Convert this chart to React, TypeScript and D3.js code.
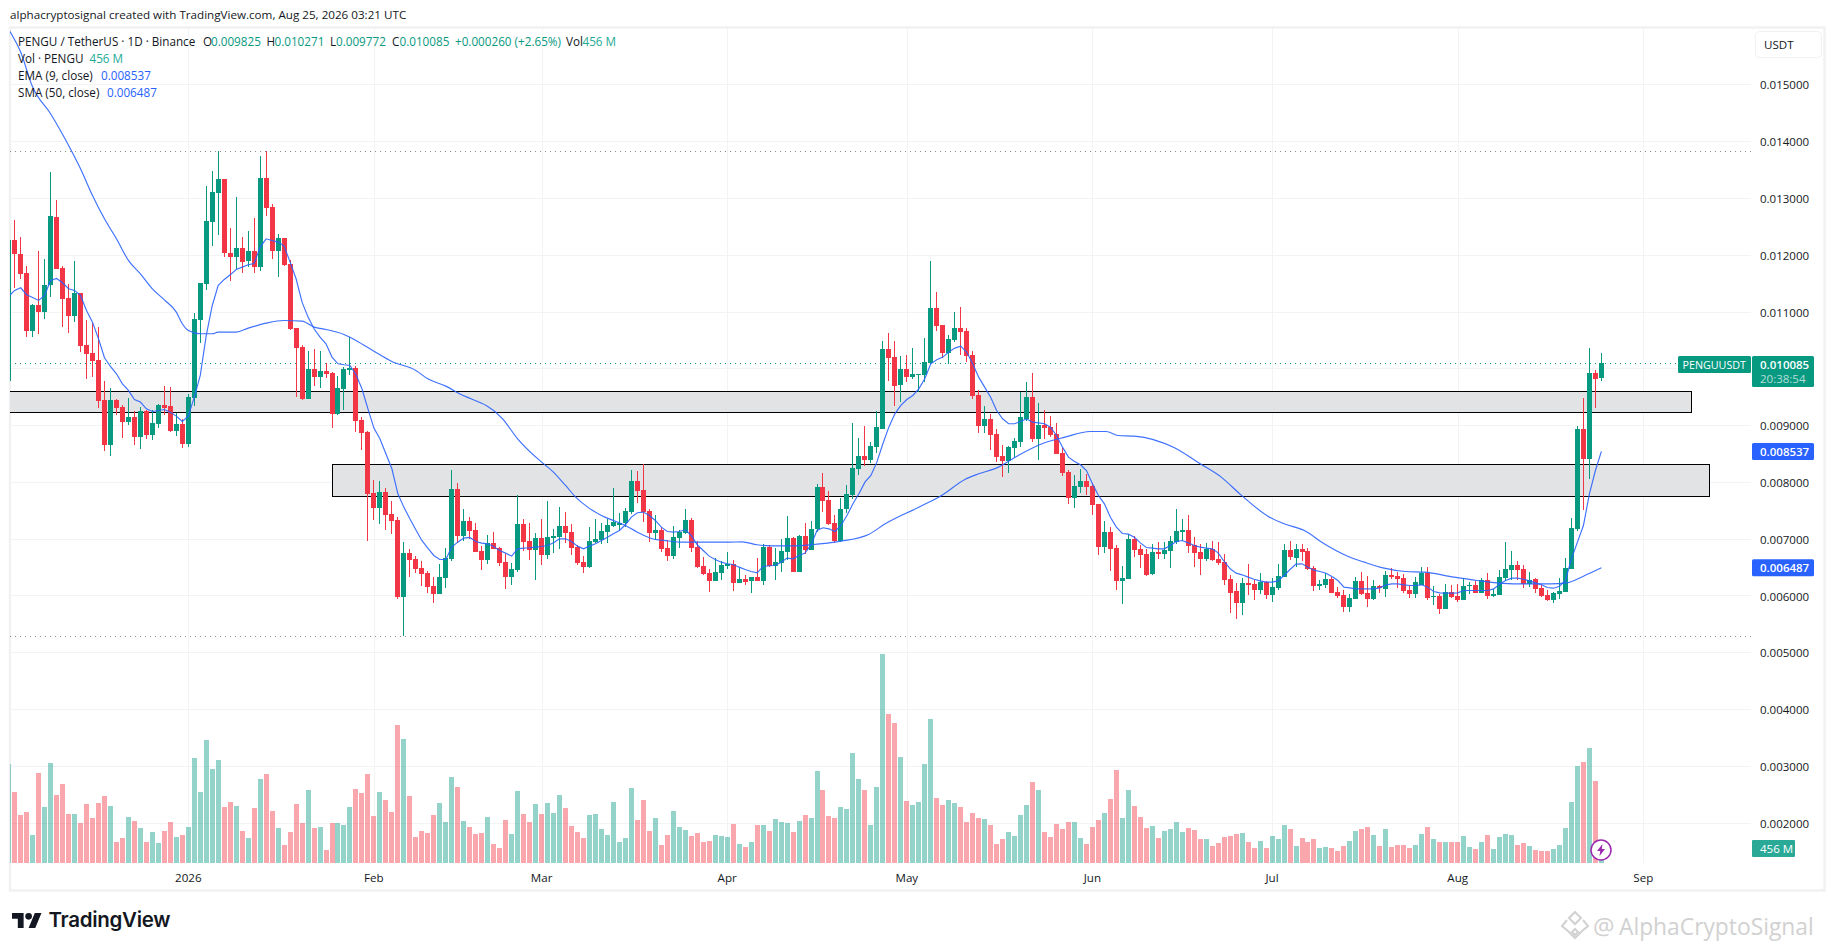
import React from "react";
import * as d3 from "d3";

// All prices in micro-USDT (1e-6), one entry per daily candle from 2 Dec 2025 to 25 Aug 2026
const opens = [
9768,12263,12016,11682,10649,11118,10983,11459,12668,11770,
11241,10913,11330,10414,10273,10150,9446,8653,9446,9322,
9058,9146,8794,9252,8829,9023,9358,9340,8900,9023,
8671,9481,10854,11488,12580,13090,13337,12034,11963,12122,
11893,12069,11787,13354,12844,12069,12298,11840,10713,10379,
9463,9991,9851,9956,9921,9199,9639,9974,10009,9093,
8882,7808,7544,7826,7438,7333,5977,6752,6646,6487,
6399,6171,6030,6311,6646,7878,7051,7315,7157,6787,
6628,6928,6840,6593,6329,6452,7262,6963,6804,7016,
6716,7016,7033,7227,7121,6857,6593,6505,6945,6981,
7121,7227,7245,7280,7474,8019,7861,7491,7104,7157,
6840,6699,7016,7104,7333,6857,6523,6400,6259,6400,
6523,6558,6223,6294,6259,6329,6259,6857,6523,6576,
6769,7016,6417,7051,6804,7174,7913,7684,7280,6963,
7526,7773,8230,8459,8389,8618,8935,10343,10202,9709,
9991,9850,9885,9885,10097,11065,10766,10273,10502,10713,
10660,10238,9533,8987,9111,8847,8459,8371,8600,8706,
9111,9498,8759,9005,8970,8847,8512,8178,7720,7913,
8019,7931,7614,6857,7121,6839,6258,6293,6998,6821,
6733,6381,6769,6733,6786,6945,7121,7156,6892,6769,
6645,6821,6645,6593,6293,6082,5871,6223,6205,6100,
6240,6012,6135,6329,6804,6663,6821,6786,6487,6170,
6188,6293,6064,6012,5800,5941,6258,6047,5941,6170,
6117,6364,6346,6311,6100,6029,6188,6399,5976,5994,
5765,6064,5994,5923,6170,6188,6047,6276,5994,6012,
6311,6452,6540,6469,6205,6293,6135,6012,5923,6029,
6064,6469,7174,8934,8406,9920,9825];

const highs = [
12300,12615,12316,11805,11136,12069,11928,13460,12967,11805,
11488,11893,11330,10854,10801,10731,9780,9657,9463,9358,
9481,9252,9322,9270,9270,9375,9692,9674,9217,9111,
9551,10977,11506,13213,13478,13824,13337,12474,13020,12316,
12421,12650,13742,13824,12897,12368,12298,11911,10713,10414,
10308,10344,10308,10097,9939,9868,10027,10549,10044,9146,
8900,8037,8019,7896,7667,7385,6945,6822,6699,6611,
6435,6329,6558,6840,8213,7984,7526,7386,7280,6875,
7069,7121,6857,6734,6576,7773,7350,7280,7104,7350,
7667,7174,7562,7474,7262,6893,6699,7209,7350,7280,
7350,7896,7456,7544,8213,8195,8319,7526,7421,7209,
6981,7227,7157,7526,7368,6963,6681,6470,6664,6611,
6769,6628,6505,6364,6329,6664,6910,6893,6840,6998,
7403,7033,7069,7280,7315,7967,8160,7843,7420,7720,
7949,9040,8776,8987,8706,9252,10484,10625,10484,10220,
10238,10361,9903,10537,11893,11347,10766,10590,10995,11083,
10713,10308,9621,9340,9199,8935,8653,8635,8776,9586,
9762,9921,9392,9269,9164,9040,8600,8213,8125,8230,
8142,7984,7614,7315,7209,6892,6522,7086,7050,6892,
6821,6910,6945,6945,7050,7526,7350,7420,7033,6910,
6927,6962,6945,6733,6364,6223,6311,6557,6276,6399,
6258,6311,6557,6910,6962,6910,6910,6839,6522,6276,
6399,6328,6152,6100,6029,6328,6417,6346,6276,6188,
6434,6487,6417,6381,6188,6328,6505,6505,6170,6029,
6205,6188,6205,6311,6240,6258,6311,6399,6117,6452,
6945,6786,6610,6540,6416,6311,6188,6100,6064,6311,
6663,7367,8987,9480,10360,9973,10271];

const lows = [
9750,11418,11576,10543,10543,10608,10872,11247,11740,10731,
10625,10819,10291,9815,9850,9305,8548,8460,9181,8777,
9005,8653,8583,8759,8741,8953,9181,8882,8812,8600,
8618,9340,10449,11382,12157,12351,11963,11541,11752,11682,
11787,11682,11717,12685,11928,11611,11805,10678,9498,9446,
9463,9692,9657,9833,8953,9181,9270,9886,8882,8565,
6963,7333,7262,7156,7086,5942,5290,6329,6399,6171,
6047,5871,6030,6135,6611,6928,6963,6998,6769,6452,
6558,6822,6523,6118,6188,6417,6787,6628,6276,6540,
6646,6752,6822,6928,6716,6540,6400,6488,6928,6910,
6928,7209,7139,7209,7438,7632,7297,6945,6981,6769,
6611,6646,6840,7086,6769,6488,6364,6065,6259,6276,
6470,6083,6223,6188,6047,6259,6188,6505,6276,6417,
6628,6417,6417,6734,6804,7121,7473,7244,6927,6945,
7456,7702,8125,8283,8336,8512,8935,9780,9340,9410,
9762,9815,9586,9762,10079,10660,10185,10079,10466,10238,
10114,9463,8864,8864,8565,8354,8090,8160,8442,8618,
9076,8706,8389,8759,8794,8494,8107,7614,7544,7808,
7773,7420,6716,6751,6434,6100,5853,6293,6681,6487,
6346,6364,6645,6645,6487,6910,6962,6751,6505,6364,
6610,6610,6540,6188,5695,5589,5659,6012,5923,6029,
5941,5888,6100,6329,6628,6505,6610,6452,6082,6100,
6135,6047,5959,5712,5712,5941,6012,5800,5923,6047,
5976,6293,6135,6047,5959,5959,6188,5923,5836,5677,
5765,5959,5888,5923,6029,6047,6047,5941,5976,6012,
6258,6276,6276,6135,6147,6047,5976,5906,5871,5941,
6064,6469,7138,7508,8054,9304,9772];

const closes = [
12251,12004,11664,10649,11118,10983,11470,12685,11752,11224,
10913,11330,10396,10255,10132,9428,8653,9446,9305,9058,
9146,8794,9252,8829,9041,9358,9305,8900,9023,8671,
9498,10872,11506,12597,13108,13337,12034,11963,12122,11875,
12069,11787,13354,12826,12069,12298,11823,10696,10361,9463,
9991,9851,9956,9903,9199,9657,9991,10009,9076,8865,
7790,7544,7826,7421,7315,5977,6752,6628,6470,6382,
6153,6030,6329,6663,7878,7051,7315,7139,6769,6628,
6928,6822,6576,6329,6470,7262,6945,6804,7016,6716,
7033,7051,7227,7104,6840,6576,6505,6963,6998,7139,
7245,7297,7280,7491,8019,7843,7474,7104,7157,6822,
6699,7033,7121,7333,6840,6505,6382,6259,6417,6540,
6558,6223,6294,6241,6329,6259,6857,6523,6593,6787,
7016,6417,7051,6804,7174,7914,7667,7262,6963,7526,
7790,8248,8459,8389,8635,8970,10343,10185,9692,9991,
9850,9903,9903,10114,11065,10748,10273,10519,10713,10643,
10220,9516,8987,9111,8829,8442,8371,8618,8723,9146,
9498,8759,9005,8952,8829,8494,8160,7720,7931,8019,
7913,7597,6857,7121,6821,6258,6311,6998,6804,6716,
6364,6769,6733,6804,6962,7138,7156,6874,6751,6645,
6821,6628,6575,6276,6047,5871,6223,6188,6100,6240,
6012,6152,6346,6804,6681,6821,6769,6469,6170,6205,
6293,6047,5994,5800,5959,6258,6029,5941,6170,6135,
6364,6328,6293,6082,6029,6240,6399,5959,5994,5765,
6064,5976,5923,6170,6188,6047,6276,5994,6029,6328,
6469,6540,6452,6205,6276,6117,5994,5923,6047,6082,
6487,7191,8934,8406,9920,9815,10085];

// Volume in millions of PENGU
const volumes = [
3110,2230,1508,1602,880,2827,1759,3141,2136,2481,
1539,1539,1256,1853,1413,1885,2104,1790,660,785,
1445,1319,1099,660,974,628,1005,1288,817,880,
1131,3298,2230,3863,2953,3235,1759,1916,1790,1005,
785,1728,2638,2795,1633,1099,565,974,1853,1256,
2293,1099,1131,408,1256,1256,1194,1759,2324,2199,
2795,1476,2230,1979,1602,4335,3895,2104,817,1005,
942,1508,1885,1288,2701,2387,1319,1131,911,942,
1445,597,471,1351,911,2262,1539,1288,1853,1539,
1885,1570,2136,1728,1162,974,785,1508,1539,1068,
880,1916,660,785,2356,1351,1979,1005,1413,565,
880,1633,1131,1037,848,942,660,691,880,848,
817,1225,597,503,660,1194,1194,1005,1382,1288,
1256,974,1319,1508,1413,2890,2293,1476,1413,1759,
1696,3455,2638,2293,1194,2387,6565,4680,4397,3329,
1947,1822,1916,3110,4523,2042,1822,1979,1885,1759,
1288,1570,1413,1382,1194,597,754,974,848,1508,
1822,2544,2293,974,817,1225,1068,1288,1288,785,
597,1131,1351,1570,2010,2921,1413,2293,1790,1445,
1099,1162,785,1005,1068,1288,974,1099,1037,754,
754,534,628,817,848,911,942,660,471,691,
471,848,754,1194,1068,534,785,660,754,471,
503,471,377,534,691,1005,1068,1131,880,534,
1068,503,565,565,471,565,911,1131,754,660,
660,660,660,848,503,440,660,880,440,817,
911,880,565,628,534,408,377,377,440,565,
1099,1916,3047,3172,3612,2576,456];

// EMA (9, close), one entry per candle
const emaValues = [
11265,11371,11418,11295,11247,11195,11283,11547,11582,11506,
11400,11371,11283,11018,10813,10520,10185,10032,9903,9727,
9610,9451,9405,9287,9240,9258,9275,9228,9158,9064,
9158,9492,9874,10578,11106,11459,11564,11646,11740,11781,
11823,11846,12134,12280,12251,12222,12151,11869,11576,11165,
10901,10696,10549,10432,10197,10079,10062,10050,9892,9639,
9287,8947,8759,8495,8231,7790,7556,7350,7156,6969,
6834,6705,6634,6634,6851,6939,7010,7022,6951,6922,
6910,6863,6793,6746,6693,6822,6834,6840,6851,6863,
6881,6928,6998,6998,6951,6869,6822,6869,6910,6969,
7027,7086,7145,7245,7380,7456,7468,7409,7321,7204,
7127,7115,7127,7157,7057,6893,6793,6693,6634,6587,
6558,6546,6499,6458,6423,6400,6511,6523,6529,6587,
6658,6646,6705,6746,6893,7145,7192,7174,7127,7233,
7409,7614,7790,7996,8113,8348,8671,8964,9199,9346,
9451,9522,9639,9815,10079,10150,10197,10285,10355,10390,
10285,10079,9844,9668,9492,9257,9111,9023,9023,9064,
9111,9052,9040,9023,8964,8817,8612,8436,8360,8301,
8201,7966,7761,7614,7379,7203,7092,7080,7027,6927,
6845,6834,6822,6822,6881,6951,6968,6927,6881,6851,
6834,6822,6751,6599,6470,6393,6364,6323,6287,6258,
6235,6235,6258,6352,6458,6552,6557,6499,6446,6422,
6393,6334,6264,6147,6135,6117,6117,6117,6117,6135,
6188,6205,6205,6188,6176,6176,6188,6147,6070,6047,
6041,6041,6047,6088,6088,6088,6088,6088,6117,6199,
6264,6305,6305,6287,6258,6223,6188,6141,6129,6164,
6264,6645,6939,7232,7790,8201,8537];

// SMA (50, close), read at selected candles (fractional candle number, value)
const smaCandles = [
0,2,4,7,10.3,12,14,16,18,20,22,24,26,28,29,30,32,34,35,38,40,43,46,49,51,53,56,58,61,64,68,70,73,75,
82.5,85,89,90.8,93,94.7,96.7,99,101.4,103,105,107.5,110,112.5,115,120,122.5,125,127.5,131,134,139,
143.6,146.4,152,155.8,159.7,162,165.3,168.6,173,176.4,180.6,183.3,185.3,188,194.7,199,202.5,205.8,
210.3,213,216.4,219.7,223.6,226.4,229.7,233.3,236.4,241.4,245.3,248.6,252,257.4,260.2,263,266];
const smaValues = [
15966,15567,14951,14481,13865,13513,13043,12632,12280,11899,11664,11400,11206,10989,10784,10666,10608,10608,10637,10637,10707,10795,10842,10831,10725,10684,10596,10490,10302,10120,9962,9815,9686,9569,
9111,8759,8348,8190,7937,7732,7556,7409,7303,7233,7115,6998,6963,6939,6939,6939,6945,6893,6875,6875,6893,6957,
7074,7262,7555,7761,8043,8142,8260,8465,8688,8788,8888,8888,8817,8806,8600,8318,8084,7772,
7397,7262,7144,6910,6692,6587,6481,6422,6411,6323,6264,6223,6205,6205,6223,6340,6487];

const priceTicks = [2000,3000,4000,5000,6000,7000,8000,9000,10000,11000,12000,13000,14000,15000];
// the 0.010000 label sits under the last-price tag in the reference, so it is not printed
const hiddenTickLabels = [10000];
const monthLabels = ["2026","Feb","Mar","Apr","May","Jun","Jul","Aug","Sep"];
const monthDates = [[2026,0],[2026,1],[2026,2],[2026,3],[2026,4],[2026,5],[2026,6],[2026,7],[2026,8]];
const rangeHigh = 13824;
const rangeLow = 5285;
const zoneUpper = { top: 9595, bottom: 9225, from: [2025,10,20], to: [2026,8,9] };
const zoneLower = { top: 8310, bottom: 7747, from: [2026,0,25], to: [2026,8,12] };
const lastPrice = 10085;
const lastEma = 8537;
const lastSma = 6487;

const GREEN = "#089981";
const RED = "#f23645";
const BLUE = "#2962ff";
const INK = "#131722";
const FONT = "'Open Sans', sans-serif";

const DAY = 86400000;
const firstDay = Date.UTC(2025, 11, 2);
const dayOf = (i: number) => new Date(firstDay + i * DAY);

const x = d3.scaleUtc().domain([new Date(Date.UTC(2026, 0, 1)), new Date(Date.UTC(2026, 8, 1))]).range([188.3, 1643.3]);
const y = d3.scaleLinear().domain([5000, 15000]).range([652.3, 84.3]);
const yVol = d3.scaleLinear().domain([0, 6565]).range([863, 654]);
const fmt = d3.format(".6f");
const priceText = (v: number) => fmt(v / 1e6);

const emaLine = d3.line<number>().x((_, i) => x(dayOf(i))).y((v) => y(v));
const smaLine = d3.line<number>().x((_, i) => x(dayOf(smaCandles[i]))).y((v) => y(v)).curve(d3.curveMonotoneX);

function Row({ at, parts }: { at: number; parts: [number, string, string][] }) {
  return (
    <g>
      {parts.map(([px, text, fill], k) => (
        <text key={k} x={px} y={at} fill={fill} fontSize={11.7} fontFamily={FONT}>{text}</text>
      ))}
    </g>
  );
}

export default function App() {
  const zoneRect = (z: typeof zoneUpper) => {
    const x0 = x(new Date(Date.UTC(z.from[0], z.from[1], z.from[2])));
    const x1 = x(new Date(Date.UTC(z.to[0], z.to[1], z.to[2])));
    return { x: Math.round(x0) + 0.5, y: Math.round(y(z.top)) + 0.5, width: Math.round(x1 - x0), height: Math.round(y(z.bottom) - y(z.top)) };
  };
  return (
    <svg width={1835} height={951} style={{ position: "absolute", left: 0, top: 0, background: "#fff" }}>
      <defs>
        <clipPath id="pane"><rect x={10} y={28} width={1741} height={835} /></clipPath>
      </defs>
      <text x={10} y={19} fontSize={11.65} fontFamily={FONT} fill={INK}>alphacryptosignal created with TradingView.com, Aug 25, 2026 03:21 UTC</text>

      <rect x={10} y={27.5} width={1814.5} height={863} fill="none" stroke="#f1f1f2" strokeWidth={2.4} />

      <g shapeRendering="crispEdges" stroke="#f2f3f5" strokeWidth={1}>
        {priceTicks.map((t) => <line key={t} x1={10} x2={1751} y1={Math.round(y(t)) + 0.5} y2={Math.round(y(t)) + 0.5} />)}
        {monthDates.map(([yr, m], k) => {
          const px = Math.round(x(new Date(Date.UTC(yr, m, 1)))) + 0.5;
          return <line key={k} x1={px} x2={px} y1={28} y2={863} />;
        })}
      </g>

      <g clipPath="url(#pane)">
        <g shapeRendering="crispEdges">
          {[zoneUpper, zoneLower].map((z, k) => <rect key={k} {...zoneRect(z)} fill="#e2e3e5" stroke="#000" strokeWidth={1} />)}
        </g>

        <g shapeRendering="crispEdges">
          {volumes.map((v, i) => (
            <rect key={i} x={Math.floor(x(dayOf(i))) - 2} width={5} y={yVol(v)} height={863 - yVol(v)} fill={closes[i] >= opens[i] ? GREEN : RED} fillOpacity={closes[i] >= opens[i] ? 0.43 : 0.44} />
          ))}
        </g>

        <g stroke="#8a8a8a" strokeWidth={1} strokeDasharray="1 4">
          <line x1={10} x2={1751} y1={Math.round(y(rangeHigh)) + 0.5} y2={Math.round(y(rangeHigh)) + 0.5} />
          <line x1={10} x2={1751} y1={Math.round(y(rangeLow)) + 0.5} y2={Math.round(y(rangeLow)) + 0.5} />
        </g>
        <line x1={10} x2={1678} y1={Math.round(y(lastPrice)) + 0.5} y2={Math.round(y(lastPrice)) + 0.5} stroke={GREEN} strokeWidth={1} strokeDasharray="1 4" />

        <g shapeRendering="crispEdges">
          {opens.map((o, i) => {
            const c = closes[i];
            const up = c >= o;
            const px = Math.floor(x(dayOf(i)));
            const top = y(Math.max(o, c));
            const bot = y(Math.min(o, c));
            const fill = up ? GREEN : RED;
            return (
              <g key={i} fill={fill}>
                <rect x={px} width={1} y={y(highs[i])} height={y(lows[i]) - y(highs[i])} />
                <rect x={px - 2} width={5} y={top} height={Math.max(1, bot - top)} />
              </g>
            );
          })}
        </g>

        <path d={emaLine(emaValues) ?? ""} fill="none" stroke={BLUE} strokeOpacity={0.9} strokeWidth={1.15} />
        <path d={smaLine(smaValues) ?? ""} fill="none" stroke={BLUE} strokeOpacity={0.9} strokeWidth={1.15} />
      </g>

      <Row at={46} parts={[[18, "PENGU / TetherUS · 1D · Binance", INK], [203, "O", INK], [211, "0.009825", GREEN], [266.5, "H", INK], [274.5, "0.010271", GREEN], [330, "L", INK], [336, "0.009772", GREEN], [392, "C", INK], [399.5, "0.010085", GREEN], [455, "+0.000260 (+2.65%)", GREEN], [566, "Vol", INK], [582.5, "456 M", "#22ab94"]]} />
      <Row at={63} parts={[[18, "Vol · PENGU", INK], [89.5, "456 M", "#22ab94"]]} />
      <Row at={80} parts={[[18, "EMA (9, close)", INK], [101, "0.008537", BLUE]]} />
      <Row at={97} parts={[[18, "SMA (50, close)", INK], [107, "0.006487", BLUE]]} />

      <rect x={1755.5} y={31.5} width={66} height={26} rx={4} fill="#fff" stroke="#f0f1f3" strokeWidth={1} />
      <text x={1764} y={49} fontSize={11.6} fontFamily={FONT} fill={INK}>USDT</text>

      {priceTicks.filter((t) => !hiddenTickLabels.includes(t)).map((t) => (
        <text key={t} x={1760} y={y(t) + 5} fontSize={11.5} fontFamily={FONT} fill={INK}>{priceText(t)}</text>
      ))}

      {monthLabels.map((m, k) => (
        <text key={m} x={x(new Date(Date.UTC(monthDates[k][0], monthDates[k][1], 1)))} y={882} textAnchor="middle" fontSize={11.6} fontFamily={FONT} fill={INK}>{m}</text>
      ))}

      <rect x={1678} y={356} width={73} height={17} rx={1.5} fill={GREEN} />
      <text x={1682.5} y={368.5} fontSize={10.6} textLength={63.5} lengthAdjust="spacingAndGlyphs" fontFamily={FONT} fill="#fff">PENGUUSDT</text>
      <rect x={1752} y={356} width={62} height={31} rx={1.5} fill={GREEN} />
      <text x={1760} y={369} fontSize={11.5} fontFamily={FONT} fontWeight={600} fill="#fff">{priceText(lastPrice)}</text>
      <text x={1760} y={383} fontSize={11.5} fontFamily={FONT} fill="#fff" fillOpacity={0.7}>20:38:54</text>

      <rect x={1752} y={y(lastEma) - 8.5} width={62} height={17} rx={1.5} fill={BLUE} />
      <text x={1760} y={y(lastEma) + 4.5} fontSize={11.5} fontFamily={FONT} fontWeight={600} fill="#fff">{priceText(lastEma)}</text>
      <rect x={1752} y={y(lastSma) - 8.5} width={62} height={17} rx={1.5} fill={BLUE} />
      <text x={1760} y={y(lastSma) + 4.5} fontSize={11.5} fontFamily={FONT} fontWeight={600} fill="#fff">{priceText(lastSma)}</text>

      <rect x={1752} y={840} width={43} height={17} rx={1} fill="#2aa997" />
      <text x={1760} y={852.5} fontSize={11.5} fontFamily={FONT} fill="#fff">456 M</text>

      <g transform="translate(1601,850)">
        <circle r={10} fill="#fff" stroke="#9c27b0" strokeWidth={1.5} />
        <path d="M1.5,-6 L-4,1 L-0.8,1 L-1.5,6 L4,-1 L0.8,-1 Z" fill="#9c27b0" />
      </g>

      <g transform="translate(12,909.7) scale(0.83)" fill={INK}>
        <path d="M14 22H7V11H0V4h14v18zM28 22h-8l7.5-18h8L28 22z" />
        <circle cx={20} cy={8} r={4} />
      </g>
      <text x={48.5} y={927} fontSize={20.5} fontWeight={600} fontFamily="Inter, sans-serif" fill={INK} letterSpacing={-0.3}>TradingView</text>

      <g fill="#cfcfcf" opacity={0.95}>
        <g transform="translate(1575,926)" stroke="#cfcfcf" strokeWidth={2} fill="none">
          <path d="M0,-14 L6,-8 L0,-2 L-6,-8 Z" />
          <path d="M-8,-6 L-13,0 L-7,5 L0,12 L7,5 L13,0 L8,-6" />
          <path d="M0,3 L3,6 L0,9 L-3,6 Z" />
        </g>
        <text x={1593} y={935} fontSize={24} fontFamily={FONT}>@</text>
        <text x={1619} y={935} fontSize={22.8} fontFamily={FONT}>AlphaCryptoSignal</text>
      </g>
    </svg>
  );
}
